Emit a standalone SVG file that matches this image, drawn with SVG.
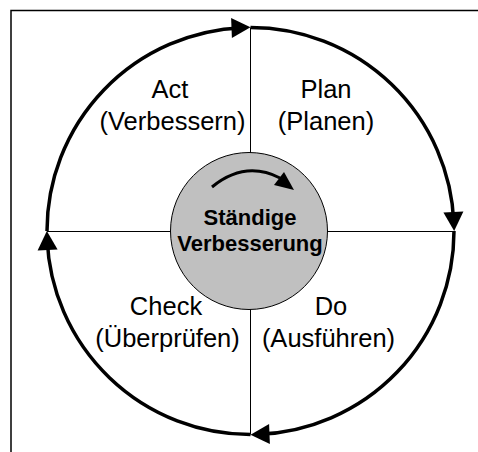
<svg xmlns="http://www.w3.org/2000/svg" width="478" height="452" viewBox="0 0 478 452">
<style>
.lbl{font-family:"Liberation Sans",Arial,sans-serif;font-size:25.5px;fill:#000;text-anchor:middle}
.ctr{font-family:"Liberation Sans",Arial,sans-serif;font-size:22px;font-weight:bold;fill:#000;text-anchor:middle}
.arc{fill:none;stroke:#000;stroke-width:3.5;marker-end:url(#ah)}
.thin{stroke:#000;stroke-width:1;fill:none}
</style>
<defs>
<marker id="ah" markerUnits="userSpaceOnUse" markerWidth="20" markerHeight="21" refX="11" refY="10" orient="auto" overflow="visible">
<path d="M0,0 L19,10 L0,20 Z" fill="#000"/>
</marker>
</defs>
<rect width="478" height="452" fill="#fff"/>
<path d="M11 452 V10.5 H478" fill="none" stroke="#000" stroke-width="1.5"/>
<g id="cross">
<line class="thin" x1="250.5" y1="27.5" x2="250.5" y2="434.5"/>
<line class="thin" x1="47" y1="231.5" x2="454" y2="231.5"/>
</g>
<g id="connectors">
<path class="arc" d="M47 231 A203.5 203.5 0 0 1 242.5 27.66"/>
<path class="arc" d="M250.5 27.5 A203.5 203.5 0 0 1 453.84 223"/>
<path class="arc" d="M454 231 A203.5 203.5 0 0 1 258.5 434.34"/>
<path class="arc" d="M250.5 434.5 A203.5 203.5 0 0 1 47.16 239"/>
</g>
<g id="act">
<text class="lbl" x="170" y="98">Act</text>
<text class="lbl" x="172.5" y="129.5">(Verbessern)</text>
</g>
<g id="plan">
<text class="lbl" x="326" y="98">Plan</text>
<text class="lbl" x="326" y="129.5">(Planen)</text>
</g>
<g id="check">
<text class="lbl" x="166" y="315">Check</text>
<text class="lbl" x="167.5" y="346.5">(Überprüfen)</text>
</g>
<g id="do">
<text class="lbl" x="331" y="315">Do</text>
<text class="lbl" x="328.5" y="346.5">(Ausführen)</text>
</g>
<g id="center">
<circle cx="249" cy="231" r="78.5" fill="#c0c0c0" stroke="#000" stroke-width="1"/>
<path d="M212 187 Q245 160 280 178" fill="none" stroke="#000" stroke-width="3"/>
<polygon points="294,190 284,172 274,185" fill="#000"/>
<text class="ctr" x="250" y="225">Ständige</text>
<text class="ctr" x="250" y="251">Verbesserung</text>
</g>
</svg>
